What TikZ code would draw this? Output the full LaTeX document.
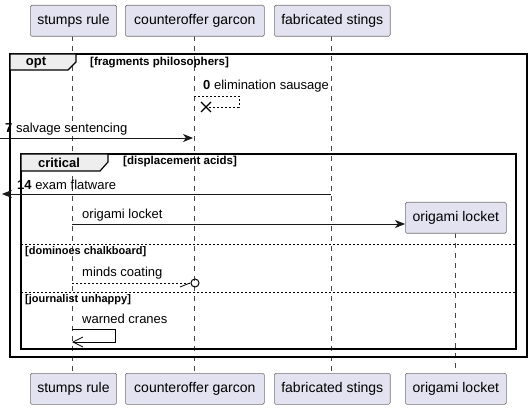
\documentclass[tikz,border=0pt]{standalone}
\usepackage{fontspec}
\setmainfont{Liberation Sans}
\usetikzlibrary{arrows.meta}
\definecolor{partfill}{HTML}{E2E2F0}
\definecolor{partdraw}{HTML}{181818}
\definecolor{tabfill}{HTML}{EEEEEE}
\tikzset{
  part/.style={draw=partdraw!60, fill=partfill, rounded corners=1.5pt, line width=0.6pt,
    minimum height=31pt, inner xsep=7pt, font=\fontsize{14}{16}\selectfont, anchor=north west},
  lifeline/.style={draw=partdraw!80, line width=0.5pt, dash pattern=on 5pt off 5pt},
  msg/.style={line width=0.8pt, draw=partdraw},
  filledtip/.style={-{Stealth[length=10pt,width=8pt,inset=3pt]}},
  msgtext/.style={font=\fontsize{13}{15}\selectfont, anchor=west, inner sep=0pt},
  frame/.style={draw=black, line width=1.5pt},
  tabshape/.style={draw=black, line width=1.2pt, fill=tabfill},
  guard/.style={font=\fontsize{11.5}{13}\selectfont\bfseries, anchor=west, inner sep=0pt},
  sepguard/.style={font=\fontsize{11}{13}\selectfont\bfseries, anchor=west, inner sep=0pt},
  tablabel/.style={font=\fontsize{13}{15}\selectfont\bfseries, inner sep=0pt},
  sep/.style={draw=black, line width=0.8pt, dash pattern=on 2pt off 2pt}
}
\begin{document}
\begin{tikzpicture}[x=1pt,y=-1pt]
\useasboundingbox (0,0) rectangle (531,409);
% lifelines
\coordinate (l1t) at (72,36); \coordinate (l1b) at (72,373);
\coordinate (l2t) at (194,36); \coordinate (l2b) at (194,373);
\coordinate (l3t) at (331,36); \coordinate (l3b) at (331,373);
\coordinate (l4t) at (455,233); \coordinate (l4b) at (455,373);
\draw[lifeline] (l1t) -- (l1b);
\draw[lifeline] (l2t) -- (l2b);
\draw[lifeline] (l3t) -- (l3b);
\draw[lifeline] (l4t) -- (l4b);
% participants top
\node[part, minimum width=85pt] (p1) at (30,5) {stumps rule};
\node[part, minimum width=139pt] (p2) at (125,5) {counteroffer garcon};
\node[part, minimum width=115pt] (p3) at (274,5) {fabricated stings};
% participants bottom
\node[part, minimum width=85pt] (q1) at (30,373) {stumps rule};
\node[part, minimum width=139pt] (q2) at (125,373) {counteroffer garcon};
\node[part, minimum width=115pt] (q3) at (274,373) {fabricated stings};
\node[part, minimum width=101pt] (q4) at (405,373) {origami locket};
% created participant
\node[part, minimum width=101pt] (p4) at (405,202) {origami locket};
% opt frame
\draw[frame] (10,54) rectangle (527,357);
\draw[tabshape] (10,54) -- (76,54) -- (76,62) -- (68,70) -- (10,70) -- cycle;
\node[tablabel] (optl) at (36,63) {opt};
\node[guard] (g1) at (90,62.5) {[fragments philosophers]};
% message 0: self destroy
\node[msgtext] (m0) at (203,86) {\textbf{0} elimination sausage};
\coordinate (s0a) at (194,96); \coordinate (s0b) at (239,96);
\coordinate (s0c) at (239,107); \coordinate (s0d) at (204,107);
\draw[line width=0.6pt, dash pattern=on 2pt off 2pt] (s0a) -- (s0b) -- (s0c) -- (s0d);
\draw[line width=1.4pt] (201,102) -- (211,112) (201,112) -- (211,102);
% message 7
\coordinate (m7a) at (0,138); \coordinate (m7b) at (193,138);
\draw[msg, filledtip] (m7a) -- (m7b);
\node[msgtext] (m7) at (5,129) {\textbf{7} salvage sentencing};
% critical frame
\draw[frame] (21,154) rectangle (516,349);
\draw[tabshape] (21,154) -- (108,154) -- (108,162) -- (100,171) -- (21,171) -- cycle;
\node[tablabel] (critl) at (59,162.5) {critical};
\node[guard] (g2) at (123,161.5) {[displacement acids]};
% message 14
\coordinate (m14a) at (331,194); \coordinate (m14b) at (2,194);
\draw[msg, filledtip] (m14a) -- (m14b);
\node[msgtext] (m14) at (17,185) {\textbf{14} exam flatware};
% origami locket create
\coordinate (m15a) at (72,224);
\draw[msg, filledtip] (m15a) -- (p4.west |- m15a);
\node[msgtext] (m15) at (82,215) {origami locket};
% separator 1
\draw[sep] (21,244) -- (516,244);
\node[sepguard] (g3) at (25,252) {[dominoes chalkboard]};
% minds coating
\coordinate (m16a) at (72,283); \coordinate (m16b) at (191,283);
\draw[line width=0.6pt, dash pattern=on 2pt off 2pt] (m16a) -- (m16b);
\draw[line width=0.8pt] (180,287) -- (190,283);
\draw[line width=1pt] (195,283) circle (4pt);
\node[msgtext] (m16) at (82,273) {minds coating};
% separator 2
\draw[sep] (21,292) -- (516,292);
\node[sepguard] (g4) at (25,300) {[journalist unhappy]};
% warned cranes
\coordinate (w1) at (72,329); \coordinate (w2) at (115,329);
\coordinate (w3) at (115,342); \coordinate (w4) at (73,342);
\draw[line width=0.8pt] (w1) -- (w2) -- (w3) -- (w4);
\draw[line width=0.8pt] (83,337) -- (w4) -- (83,347);
\node[msgtext] (m17) at (82,319) {warned cranes};
\end{tikzpicture}
\end{document}
